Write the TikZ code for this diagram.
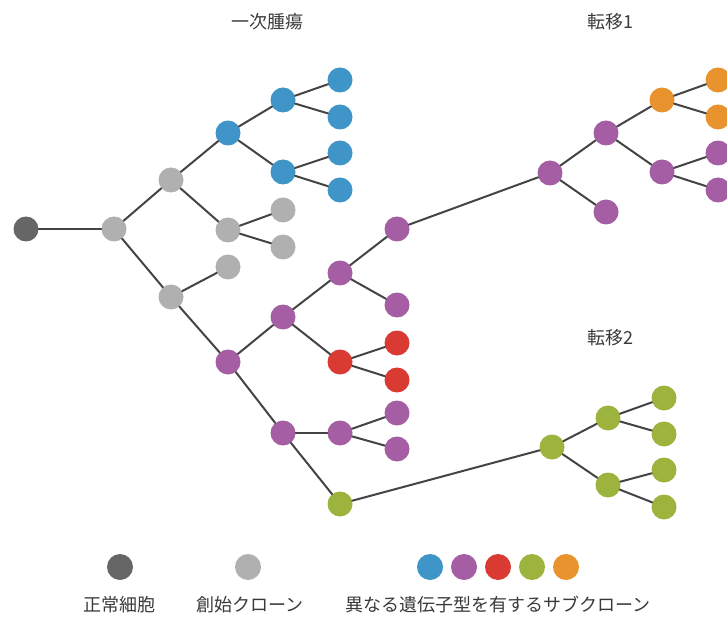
\documentclass[tikz,border=0pt]{standalone}
\usepackage{fontspec}
\setmainfont{Noto Sans CJK JP}
\usetikzlibrary{positioning}

\definecolor{normalc}{HTML}{666666}
\definecolor{foundc}{HTML}{B0B0B0}
\definecolor{bluec}{HTML}{3F94C8}
\definecolor{purplec}{HTML}{A55EA4}
\definecolor{redc}{HTML}{D93A32}
\definecolor{greenc}{HTML}{9CB43E}
\definecolor{orangec}{HTML}{E8932E}
\definecolor{linec}{HTML}{444444}
\definecolor{textc}{HTML}{3A3A3A}

\tikzset{
  cell/.style={circle, minimum size=25pt, inner sep=0pt},
  keycell/.style={circle, minimum size=26pt, inner sep=0pt},
  link/.style={line width=2pt, color=linec},
  caption/.style={text=textc, font=\fontsize{18}{20}\selectfont}
}

\begin{document}
\begin{tikzpicture}[line cap=round,line join=round,x=1pt,y=-1pt]
\useasboundingbox (0,0) rectangle (727,617);

% Primary tumour nodes
\node [cell, fill=normalc] (n0) at (26,229) {};
\node [cell, fill=foundc] (g1) at (114,229) {};
\node [cell, fill=foundc] (g2) at (171,180) {};
\node [cell, fill=foundc] (g3) at (171,297) {};
\node [cell, fill=foundc] (g4) at (228,230) {};
\node [cell, fill=foundc] (g5) at (228,267) {};
\node [cell, fill=foundc] (gl1) at (283,210) {};
\node [cell, fill=foundc] (gl2) at (283,247) {};
\node [cell, fill=bluec] (b1) at (228,133) {};
\node [cell, fill=bluec] (b2) at (283,100) {};
\node [cell, fill=bluec] (b3) at (283,172) {};
\node [cell, fill=bluec] (bl1) at (340,80) {};
\node [cell, fill=bluec] (bl2) at (340,117) {};
\node [cell, fill=bluec] (bl3) at (340,153) {};
\node [cell, fill=bluec] (bl4) at (340,190) {};
\node [cell, fill=purplec] (p1) at (228,362) {};
\node [cell, fill=purplec] (p2) at (283,317) {};
\node [cell, fill=purplec] (p3) at (340,273) {};
\node [cell, fill=purplec] (p4) at (397,229) {};
\node [cell, fill=purplec] (p5) at (397,305) {};
\node [cell, fill=redc] (r1) at (340,362) {};
\node [cell, fill=redc] (rl1) at (397,343) {};
\node [cell, fill=redc] (rl2) at (397,380) {};
\node [cell, fill=purplec] (p6) at (283,433) {};
\node [cell, fill=purplec] (p7) at (340,433) {};
\node [cell, fill=purplec] (pl1) at (397,413) {};
\node [cell, fill=purplec] (pl2) at (397,449) {};
\node [cell, fill=greenc] (v0) at (340,504) {};

% Metastasis 1 nodes
\node [cell, fill=purplec] (m1) at (550,173) {};
\node [cell, fill=purplec] (m2) at (606,133) {};
\node [cell, fill=purplec] (m3) at (606,212) {};
\node [cell, fill=purplec] (m4) at (662,172) {};
\node [cell, fill=purplec] (ml1) at (718,153) {};
\node [cell, fill=purplec] (ml2) at (718,190) {};
\node [cell, fill=orangec] (o1) at (662,100) {};
\node [cell, fill=orangec] (ol1) at (718,80) {};
\node [cell, fill=orangec] (ol2) at (718,117) {};

% Metastasis 2 nodes
\node [cell, fill=greenc] (v1) at (552,447) {};
\node [cell, fill=greenc] (v2) at (608,418) {};
\node [cell, fill=greenc] (v3) at (608,485) {};
\node [cell, fill=greenc] (vl1) at (664,398) {};
\node [cell, fill=greenc] (vl2) at (664,434) {};
\node [cell, fill=greenc] (vl3) at (664,470) {};
\node [cell, fill=greenc] (vl4) at (664,507) {};

% Draw
\foreach \a/\b in {n0/g1, g1/g2, g1/g3, g2/b1, g2/g4, g4/gl1, g4/gl2,
  g3/g5, g3/p1, b1/b2, b1/b3, b2/bl1, b2/bl2, b3/bl3, b3/bl4,
  p1/p2, p1/p6, p2/p3, p2/r1, p3/p4, p3/p5, r1/rl1, r1/rl2,
  p6/p7, p6/v0, p7/pl1, p7/pl2,
  p4/m1, m1/m2, m1/m3, m2/o1, m2/m4, o1/ol1, o1/ol2, m4/ml1, m4/ml2,
  v0/v1, v1/v2, v1/v3, v2/vl1, v2/vl2, v3/vl3, v3/vl4}
  \draw [link] (\a) -- (\b);

% Labels
\node [caption] (tprim) at (267,22) {一次腫瘍};
\node [caption] (tmet1) at (610,22) {転移1};
\node [caption] (tmet2) at (610,338) {転移2};

% Legend
\node [keycell, fill=normalc] (k0) at (120,567) {};
\node [keycell, fill=foundc] (k1) at (248,567) {};
\node [keycell, fill=bluec] (k2) at (430,567) {};
\node [keycell, fill=purplec] (k3) at (464,567) {};
\node [keycell, fill=redc] (k4) at (498,567) {};
\node [keycell, fill=greenc] (k5) at (532,567) {};
\node [keycell, fill=orangec] (k6) at (566,567) {};
\node [caption] (l0) at (119,605) {正常細胞};
\node [caption] (l1) at (250,605) {創始クローン};
\node [caption] (l2) at (498,605) {異なる遺伝子型を有するサブクローン};
\end{tikzpicture}
\end{document}
